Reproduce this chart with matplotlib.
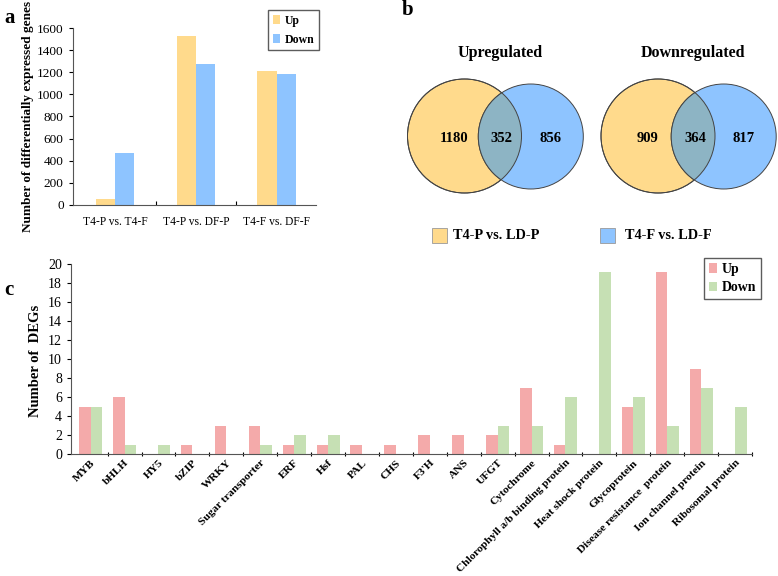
import numpy as np
import matplotlib
matplotlib.use("Agg")
import matplotlib.pyplot as plt
from matplotlib.patches import Circle, Rectangle

plt.rcParams['font.family'] = ['Liberation Serif', 'DejaVu Serif']

# panel a data
comparisons = ['T4-P vs. T4-F', 'T4-P vs. DF-P', 'T4-F vs. DF-F']
deg_up = [50, 1530, 1212]
deg_down = [472, 1277, 1183]

# panel b data (Venn counts)
venn_titles = ['Upregulated', 'Downregulated']
venn_left_only = [1180, 909]
venn_both = [352, 364]
venn_right_only = [856, 817]
venn_sets = ['T4-P vs. LD-P', 'T4-F vs. LD-F']

# panel c data
families = ['MYB', 'bHLH', 'HY5', 'bZIP', 'WRKY', 'Sugar transporter', 'ERF', 'Hsf',
            'PAL', 'CHS', "F3'H", 'ANS', 'UFGT', 'Cytochrome',
            'Chlorophyll a/b binding protein', 'Heat shock protein', 'Glycoprotein',
            'Disease resistance  protein', 'Ion channel protein', 'Ribosomal protein']
fam_up = [5, 6, 0, 1, 3, 3, 1, 1, 1, 1, 2, 2, 2, 7, 1, 0, 5, 19.2, 9, 0]
fam_down = [5, 1, 1, 0, 0, 1, 2, 2, 0, 0, 0, 0, 3, 3, 6, 19.2, 6, 3, 7, 5]

yellow = '#FFDA8C'
blue = '#8EC4FF'
pink = '#F4AAAA'
green = '#C6E0B4'

W, H = 778, 576
fig = plt.figure(figsize=(W / 100, H / 100), dpi=100)


def ax_rect(l, t, r, b):
    return [l / W, 1 - b / H, (r - l) / W, (b - t) / H]


# ---------- panel a ----------
ax = fig.add_axes(ax_rect(72.7, 28.3, 316, 204.7))
x = np.arange(len(comparisons))
bw = 0.237
ax.bar(x - bw / 2, deg_up, bw, color=yellow, label='Up')
ax.bar(x + bw / 2, deg_down, bw, color=blue, label='Down')
ax.set_xlim(-0.53, 2.49)
ax.set_ylim(0, 1600)
ax.set_yticks(range(0, 1601, 200))
ax.set_xticks(x)
ax.set_xticklabels(comparisons, fontsize=8.3)
ax.set_xticks([0.5, 1.5], minor=True)
ax.tick_params(axis='x', which='major', length=0, pad=8)
ax.tick_params(axis='x', which='minor', length=3, direction='in', width=0.8)
ax.tick_params(axis='y', labelsize=9.5, length=3, width=0.8)
for s in ['top', 'right']:
    ax.spines[s].set_visible(False)
for s in ['left', 'bottom']:
    ax.spines[s].set_color('#555555')
ax.set_ylabel('Number of differentially expressed genes', fontsize=9.5,
              fontweight='bold')
ax.yaxis.set_label_coords(-0.16, 0.5)
leg = ax.legend(loc='upper right', bbox_to_anchor=(1.012, 1.104), borderaxespad=0,
                prop={'weight': 'bold', 'size': 8.5}, handlelength=0.6, handleheight=0.7,
                handletextpad=0.4, fancybox=False, edgecolor='#333333',
                borderpad=0.4, labelspacing=0.6)
leg.get_frame().set_linewidth(1.0)

# ---------- panel b ----------
vb = fig.add_axes([0, 0, 1, 1])
vb.set_xlim(0, W)
vb.set_ylim(H, 0)
vb.axis('off')
vb.patch.set_alpha(0)
centers = [((464.5, 136), (530.8, 136.5)), ((658, 136), (723.7, 136.5))]
for i, (c1, c2) in enumerate(centers):
    vb.add_patch(Circle(c1, 57, facecolor=yellow, edgecolor='#444444', lw=0.7))
    vb.add_patch(Circle(c2, 52.5, facecolor=blue, edgecolor='#444444', lw=0.7))
    ov = Circle(c2, 52.5, facecolor='#8DB4C4', edgecolor='#444444', lw=0.7)
    vb.add_patch(ov)
    ov.set_clip_path(Circle(c1, 57, transform=vb.transData))
    vb.add_patch(Circle(c1, 57, facecolor='none', edgecolor='#444444', lw=0.7))
    vb.text((c1[0] + c2[0]) / 2 + 2, 53, venn_titles[i], fontsize=11.5,
            fontweight='bold', ha='center', va='center')
    vb.text(c1[0] - 10.5, 138, str(venn_left_only[i]), fontsize=10.5,
            fontweight='bold', ha='center', va='center')
    vb.text(c1[0] + 37, 138, str(venn_both[i]), fontsize=10.5,
            fontweight='bold', ha='center', va='center')
    vb.text(c2[0] + 19.5, 138, str(venn_right_only[i]), fontsize=10.5,
            fontweight='bold', ha='center', va='center')

for (sx, tx), lab, col in zip([(432, 453), (600, 625)], venn_sets, [yellow, blue]):
    vb.add_patch(Rectangle((sx, 228), 15, 14.5, facecolor=col, edgecolor='#999999', lw=0.6))
    vb.text(tx, 235.5, lab, fontsize=10.3, fontweight='bold', ha='left', va='center')

# panel letters
vb.text(4, 18, 'a', fontsize=15, fontweight='bold', ha='left', va='center')
vb.text(402, 10, 'b', fontsize=15, fontweight='bold', ha='left', va='center')
vb.text(4, 290, 'c', fontsize=15, fontweight='bold', ha='left', va='center')

# ---------- panel c ----------
axc = fig.add_axes(ax_rect(71, 264.4, 752, 454))
xc = np.arange(len(families))
bw = 0.34
axc.bar(xc - bw / 2, fam_up, bw, color=pink, label='Up')
axc.bar(xc + bw / 2, fam_down, bw, color=green, label='Down')
axc.set_xlim(-0.58, 19.5)
axc.set_ylim(0, 20)
axc.set_yticks(range(0, 21, 2))
axc.set_xticks(xc)
axc.set_xticklabels(families, rotation=45, ha='right', rotation_mode='anchor',
                    fontsize=8.2, fontweight='bold')
axc.set_xticks(np.arange(0.5, 19.6, 1), minor=True)
axc.tick_params(axis='x', which='major', length=0, pad=3)
axc.tick_params(axis='x', which='minor', length=3, direction='inout', width=0.8)
axc.tick_params(axis='y', labelsize=10, length=3, width=0.8)
for s in ['top', 'right']:
    axc.spines[s].set_visible(False)
for s in ['left', 'bottom']:
    axc.spines[s].set_color('#555555')
axc.set_ylabel('Number of  DEGs', fontsize=10.5, fontweight='bold')
axc.yaxis.set_label_coords(-0.042, 0.49)
legc = axc.legend(loc='upper right', bbox_to_anchor=(1.013, 1.034), borderaxespad=0,
                  prop={'weight': 'bold', 'size': 10}, handlelength=0.6,
                  handleheight=0.7, handletextpad=0.3, fancybox=False,
                  edgecolor='#333333', borderpad=0.35, labelspacing=0.4)
legc.get_frame().set_linewidth(1.0)

fig.savefig('out.png', dpi=100)
